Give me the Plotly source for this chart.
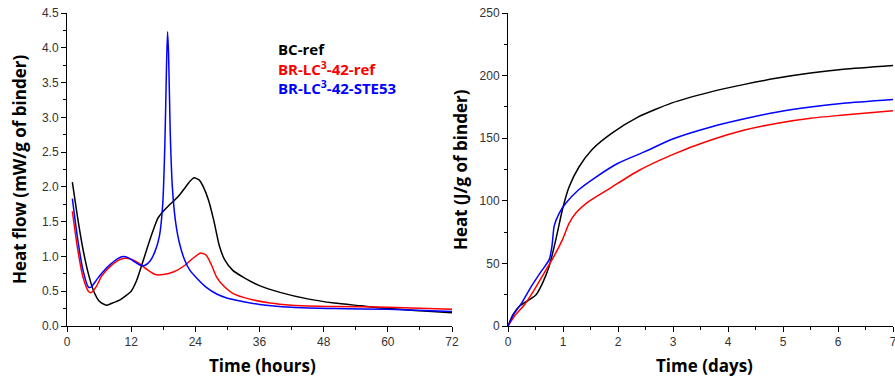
import plotly.graph_objects as go

# ---- Left panel: heat flow (mW/g of binder) vs time (hours)
bc_hours = [1, 2, 3, 4, 5, 6, 7, 7.5, 8.5, 10, 12, 13, 14, 15, 16, 17, 18, 19, 20, 21, 22, 23,
            23.8, 24.7, 25.5, 26.5, 27.5, 28.5, 29.5, 31, 33, 36, 40, 45, 50, 55, 60, 66, 72]
bc_flow = [2.07, 1.55, 1.1, 0.75, 0.5, 0.36, 0.31, 0.30, 0.33, 0.38, 0.5, 0.65, 0.88, 1.12, 1.35,
           1.55, 1.65, 1.73, 1.8, 1.88, 1.98, 2.08, 2.13, 2.1, 2.0, 1.8, 1.5, 1.15, 0.95, 0.8,
           0.7, 0.58, 0.48, 0.39, 0.33, 0.29, 0.25, 0.22, 0.19]

ref_hours = [1, 2, 3, 4, 4.5, 5.5, 6.5, 8, 9.5, 10.5, 12, 13.5, 15, 16.5, 18, 20, 22, 23.5, 25,
             26, 27, 28, 29.5, 31, 34, 38, 42, 50, 60, 72]
ref_flow = [1.65, 1.1, 0.7, 0.5, 0.48, 0.57, 0.72, 0.85, 0.94, 0.97, 0.96, 0.9, 0.81, 0.74, 0.74,
            0.78, 0.87, 0.97, 1.05, 1.02, 0.88, 0.7, 0.56, 0.47, 0.39, 0.33, 0.3, 0.28, 0.27, 0.24]

ste_hours = [1, 2, 3, 4, 4.5, 5.5, 6.5, 8, 9.5, 10.5, 11.5, 12.5, 13.5, 14.5, 15.5, 16.5, 17.3,
             17.9, 18.3, 18.6, 18.8, 19.0, 19.3, 19.7, 20.3, 21, 22, 23, 24.5, 26, 28, 30, 33,
             36, 42, 50, 60, 72]
ste_flow = [1.83, 1.25, 0.8, 0.56, 0.56, 0.66, 0.76, 0.88, 0.97, 1.0, 0.98, 0.93, 0.88, 0.87,
            0.93, 1.08, 1.3, 1.75, 2.6, 3.7, 4.23, 3.9, 2.8, 2.0, 1.5, 1.2, 0.95, 0.8, 0.67,
            0.56, 0.46, 0.4, 0.35, 0.31, 0.27, 0.25, 0.24, 0.21]

# ---- Right panel: cumulative heat (J/g of binder) vs time (days)
bc_days = [0, 0.09, 0.21, 0.39, 0.51, 0.63, 0.75, 0.87, 0.99, 1.11, 1.29, 1.53, 1.89, 2.37,
           2.97, 3.69, 4.3, 4.9, 5.5, 6.1, 7]
bc_heat = [0, 9, 16, 21, 25, 34.5, 48, 69, 93, 111, 127, 141, 154, 167, 178, 187, 193, 198,
           202, 205, 208]

ste_days = [0, 0.1, 0.25, 0.43, 0.61, 0.75, 0.8, 0.84, 0.93, 1.05, 1.29, 1.6, 2.0, 2.5, 2.97,
            3.69, 4.3, 4.9, 5.5, 6.1, 7]
ste_heat = [0, 9, 18.5, 32, 44, 53, 64, 80, 90, 98, 109, 119, 130, 139.5, 149, 159, 165.5, 171,
            175, 178, 181]

ref_days = [0, 0.12, 0.3, 0.48, 0.66, 0.84, 0.99, 1.11, 1.23, 1.47, 1.89, 2.37, 2.97, 3.69,
            4.3, 4.9, 5.5, 6.1, 7]
ref_heat = [0, 8, 17, 29, 42.5, 56, 69, 82, 90, 99.5, 111, 124, 136.5, 148.5, 156.5, 162, 166,
            168.5, 172]

series_names = ["BC-ref", "BR-LC<sup>3</sup>-42-ref", "BR-LC<sup>3</sup>-42-STE53"]
series_colors = ["#000000", "#ff0000", "#0000ff"]

fig = go.Figure()
left = [(bc_hours, bc_flow), (ref_hours, ref_flow), (ste_hours, ste_flow)]
right = [(bc_days, bc_heat), (ref_days, ref_heat), (ste_days, ste_heat)]
for (x, y), c in zip(left, series_colors):
    fig.add_trace(go.Scatter(x=x, y=y, mode="lines", line=dict(color=c, width=1.5, shape="spline", smoothing=0.6),
                             xaxis="x", yaxis="y", showlegend=False))
for (x, y), c in zip(right, series_colors):
    fig.add_trace(go.Scatter(x=x, y=y, mode="lines", line=dict(color=c, width=1.5, shape="spline", smoothing=0.6),
                             xaxis="x2", yaxis="y2", showlegend=False))

W, H = 895, 381
ydom = [(H - 326) / H, (H - 13) / H]
tickfont = dict(family="Liberation Sans, Arial", size=12, color="#333333")
axcommon = dict(showgrid=False, zeroline=False, showline=True, linecolor="#000000", linewidth=1,
                ticks="outside", ticklen=5, tickcolor="#000000", tickfont=tickfont, automargin=False,
                ticklabeloverflow="allow")
minor_common = dict(ticks="outside", ticklen=3, tickcolor="#000000")

fig.update_layout(
    width=W, height=H, margin=dict(l=0, r=0, t=0, b=0, autoexpand=False),
    paper_bgcolor="white", plot_bgcolor="white",
    xaxis=dict(domain=[67 / W, 452 / W], range=[0, 72], dtick=12, tick0=0,
               minor=dict(dtick=6, **minor_common), anchor="y", **axcommon),
    yaxis=dict(domain=ydom, range=[0, 4.5], dtick=0.5, tickformat=".1f",
               minor=dict(dtick=0.25, **minor_common), anchor="x", **axcommon),
    xaxis2=dict(domain=[508 / W, 893 / W], range=[0, 7], dtick=1,
                minor=dict(dtick=0.5, **minor_common), anchor="y2", **axcommon),
    yaxis2=dict(domain=ydom, range=[0, 250], dtick=50,
                minor=dict(dtick=25, **minor_common), anchor="x2", **axcommon),
)

titlefont = dict(family="Open Sans", size=17, color="#000000")
ann = [
    dict(text="<b>Time (hours)</b>", x=262, y=365),
    dict(text="<b>Time (days)</b>", x=704, y=365),
    dict(text="<b>Heat flow (mW/g of binder)</b>", x=19, y=170, textangle=-90),
    dict(text="<b>Heat (J/g of binder)</b>", x=460, y=170, textangle=-90),
]
for a in ann:
    fig.add_annotation(text=a["text"], xref="paper", yref="paper", x=a["x"] / W, y=1 - a["y"] / H,
                       xanchor="center", yanchor="middle", showarrow=False, font=titlefont,
                       textangle=a.get("textangle", 0))

legend_y = [49, 68, 87]
for name, c, ly in zip(series_names, series_colors, legend_y):
    fig.add_annotation(text="<b>" + name + "</b>", xref="paper", yref="paper", x=276 / W, y=1 - ly / H,
                       xanchor="left", yanchor="middle", showarrow=False,
                       font=dict(family="Open Sans", size=15, color=c))

fig.write_html("out.html", config={"displayModeBar": False},
               post_script="document.body.style.margin='0';document.body.style.overflow='hidden';")
